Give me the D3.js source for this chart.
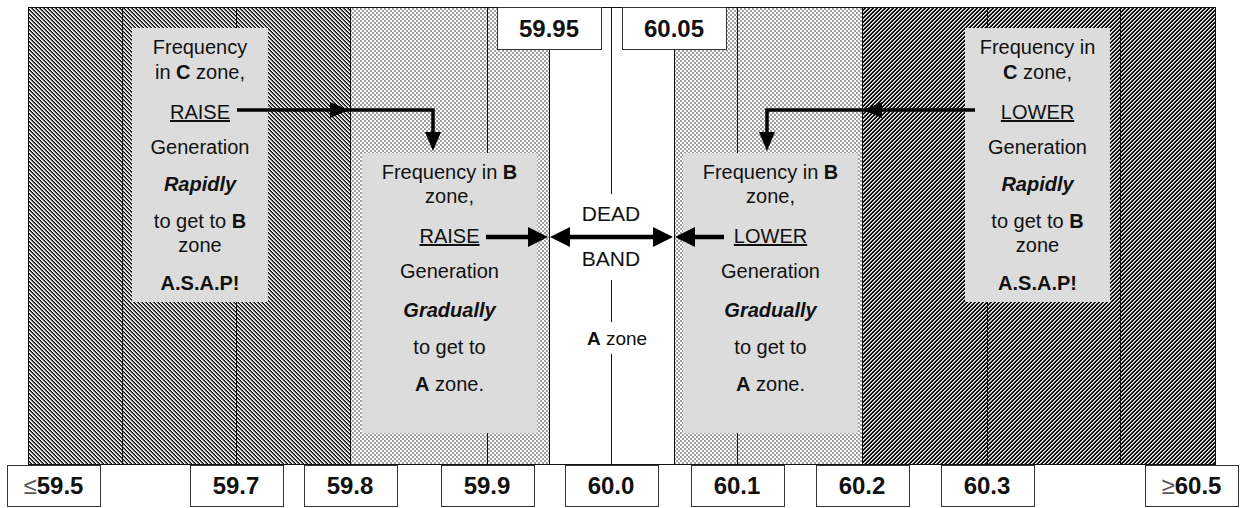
<!DOCTYPE html>
<html>
<head>
<meta charset="utf-8">
<script src="https://cdn.jsdelivr.net/npm/d3@7"></script>
<style>
  body { margin: 0; background: #fff; }
  svg { display: block; font-family: Arial, 'Liberation Sans', sans-serif; }
</style>
</head>
<body>
<svg id="chart" width="1240" height="508"></svg>
<script>
// frequency ticks (Hz) and where the chart puts them (the scale is not uniform)
var gridValues = [59.5, 59.6, 59.7, 59.8, 59.9, 59.95, 60.0, 60.05, 60.1, 60.2, 60.3, 60.4, 60.5];
var gridPx = [28, 122, 236, 350, 487, 549, 611, 674, 737, 862, 987, 1120, 1215];

// zones
var zoneStarts = [59.5, 59.8, 59.95, 60.05, 60.2];
var zoneEnds = [59.8, 59.95, 60.05, 60.2, 60.5];
var zoneFills = ['hatchLow', 'dots', 'none', 'dots', 'hatchHigh'];

// labels
var bottomValues = [59.5, 59.7, 59.8, 59.9, 60.0, 60.1, 60.2, 60.3, 60.5];
var bottomLabels = ['\u226459.5', '59.7', '59.8', '59.9', '60.0', '60.1', '60.2', '60.3', '\u226560.5'];
var topValues = [59.95, 60.05];
var topLabels = ['59.95', '60.05'];

// annotation text, one array per box; each line is a list of [text, style]
var cLowText = [
    [['Frequency', '']],
    [['in ', ''], ['C', 'b'], [' zone,', '']],
    [['RAISE', 'u']],
    [['Generation', '']],
    [['Rapidly', 'bi']],
    [['to get to ', ''], ['B', 'b']],
    [['zone', '']],
    [['A.S.A.P!', 'b']]
];
var cHighText = [
    [['Frequency in', '']],
    [['C', 'b'], [' zone,', '']],
    [['LOWER', 'u']],
    [['Generation', '']],
    [['Rapidly', 'bi']],
    [['to get to ', ''], ['B', 'b']],
    [['zone', '']],
    [['A.S.A.P!', 'b']]
];
var bLowText = [
    [['Frequency in ', ''], ['B', 'b']],
    [['zone,', '']],
    [['RAISE', 'u']],
    [['Generation', '']],
    [['Gradually', 'bi']],
    [['to get to', '']],
    [['A', 'b'], [' zone.', '']]
];
var bHighText = [
    [['Frequency in ', ''], ['B', 'b']],
    [['zone,', '']],
    [['LOWER', 'u']],
    [['Generation', '']],
    [['Gradually', 'bi']],
    [['to get to', '']],
    [['A', 'b'], [' zone.', '']]
];
var cLineY = [47, 72, 112, 147, 184, 221, 245, 283];
var bLineY = [172, 196, 236, 271, 310, 347, 384];

var svg = d3.select('#chart');
var plotTop = 7, plotBottom = 464;

var x = d3.scaleLinear().domain(gridValues).range(gridPx);

// patterns
var defs = svg.append('defs');
function pixelPattern(id, colorAt) {
    var p = defs.append('pattern').attr('id', id)
        .attr('patternUnits', 'userSpaceOnUse')
        .attr('width', 4).attr('height', 4);
    for(var i = 0; i < 4; i++) {
        for(var j = 0; j < 4; j++) {
            p.append('rect').attr('x', i).attr('y', j)
                .attr('width', 1).attr('height', 1)
                .attr('shape-rendering', 'crispEdges')
                .attr('fill', colorAt(i, j));
        }
    }
}
var lowCols = ['#000', '#fff', '#c8c8c8', '#5a5a5a'];
var highCols = ['#000', '#1a1a1a', '#fff', '#999'];
pixelPattern('hatchLow', function(i, j) { return lowCols[(i - j + 8) % 4]; });
pixelPattern('hatchHigh', function(i, j) { return highCols[(i + j) % 4]; });
pixelPattern('dots', function(i, j) {
    var cell = (Math.floor(i / 2) + Math.floor(j / 2)) % 2;
    return cell === 0 ? '#a0a0a0' : '#fff';
});

// zone fills
svg.append('g').selectAll('rect')
    .data(zoneStarts)
    .join('rect')
    .attr('x', function(d) { return x(d); })
    .attr('y', plotTop)
    .attr('width', function(d, i) { return x(zoneEnds[i]) - x(d); })
    .attr('height', plotBottom - plotTop)
    .attr('shape-rendering', 'crispEdges')
    .attr('fill', function(d, i) { return zoneFills[i] === 'none' ? '#fff' : 'url(#' + zoneFills[i] + ')'; });

// grid lines
svg.append('g').selectAll('line')
    .data(gridValues)
    .join('line')
    .attr('x1', function(d) { return Math.round(x(d)) + 0.5; })
    .attr('x2', function(d) { return Math.round(x(d)) + 0.5; })
    .attr('y1', plotTop).attr('y2', plotBottom)
    .attr('stroke', '#111').attr('stroke-width', 1);

svg.append('rect')
    .attr('x', x(59.5) + 0.5).attr('y', plotTop + 0.5)
    .attr('width', x(60.5) - x(59.5)).attr('height', plotBottom - plotTop)
    .attr('fill', 'none').attr('stroke', '#111');

// gaps in the 60.0 line behind the centre text
var cx = x(60.0);
svg.append('rect').attr('x', cx - 8).attr('y', 194).attr('width', 16).attr('height', 86).attr('fill', '#fff');
svg.append('rect').attr('x', cx - 8).attr('y', 322).attr('width', 16).attr('height', 32).attr('fill', '#fff');

// annotation boxes
function textBox(x0, y0, x1, y1, lines, ys) {
    var g = svg.append('g');
    g.append('rect').attr('x', x0).attr('y', y0)
        .attr('width', x1 - x0).attr('height', y1 - y0)
        .attr('fill', '#dcdcdc');
    var mid = (x0 + x1) / 2;
    lines.forEach(function(parts, i) {
        var t = g.append('text')
            .attr('x', mid).attr('y', ys[i])
            .attr('dy', '0.35em')
            .attr('text-anchor', 'middle')
            .attr('font-size', 20)
            .attr('fill', '#111');
        parts.forEach(function(p) {
            var s = t.append('tspan').text(p[0]);
            if(p[1].indexOf('b') >= 0) s.attr('font-weight', 'bold');
            if(p[1].indexOf('i') >= 0) s.attr('font-style', 'italic');
            if(p[1] === 'u') s.attr('text-decoration', 'underline');
        });
    });
}
textBox(132, 28, 268, 302, cLowText, cLineY);
textBox(965, 28, 1110, 302, cHighText, cLineY);
textBox(362, 153, 537, 433, bLowText, bLineY);
textBox(683, 153, 858, 433, bHighText, bLineY);

// centre text
var centre = svg.append('g').attr('text-anchor', 'middle').attr('font-size', 21).attr('fill', '#111');
centre.append('text').attr('x', cx).attr('y', 214).attr('dy', '0.35em').text('DEAD');
centre.append('text').attr('x', cx).attr('y', 259).attr('dy', '0.35em').text('BAND');
var az = centre.append('text').attr('x', cx + 6).attr('y', 338).attr('dy', '0.35em').attr('font-size', 19);
az.append('tspan').attr('font-weight', 'bold').text('A');
az.append('tspan').text(' zone');

// arrows
function head(tx, ty, dir, len, half) {
    var pts;
    if(dir === 'r') pts = [[tx, ty], [tx - len, ty - half], [tx - len, ty + half]];
    if(dir === 'l') pts = [[tx, ty], [tx + len, ty - half], [tx + len, ty + half]];
    if(dir === 'd') pts = [[tx, ty], [tx - half, ty - len], [tx + half, ty - len]];
    svg.append('polygon').attr('points', pts.map(function(p) { return p.join(','); }).join(' '))
        .attr('fill', '#000');
}
function wire(d, w) {
    svg.append('path').attr('d', d).attr('fill', 'none')
        .attr('stroke', '#000').attr('stroke-width', w);
}
// C zone arrows (top)
var ay = 110;
var lowTurn = 433, highTurn = 767;
wire('M237,' + ay + 'H' + lowTurn + 'V138', 3.5);
head(x(59.8) - 1, ay, 'r', 19, 8);
head(lowTurn, 151, 'd', 19, 8);
wire('M975,' + ay + 'H' + highTurn + 'V138', 3.5);
head(x(60.2) + 1, ay, 'l', 19, 8);
head(highTurn, 151, 'd', 19, 8);

// B zone / dead band arrows
var my = 237;
wire('M486,' + my + 'H' + (x(59.95) - 14), 4.5);
head(x(59.95) - 1, my, 'r', 20, 10);
wire('M' + (x(59.95) + 14) + ',' + my + 'H' + (x(60.05) - 14), 4.5);
head(x(59.95) + 1, my, 'l', 20, 10);
head(x(60.05) - 1, my, 'r', 20, 10);
wire('M' + (x(60.05) + 14) + ',' + my + 'H724', 4.5);
head(x(60.05) + 1, my, 'l', 20, 10);

// value labels
function labelBoxes(values, labels, y0, h, w) {
    var g = svg.append('g');
    var items = values.map(function(v, i) {
        var left = Math.max(7, Math.min(1238 - w, x(v) - w / 2));
        return {left: left, label: labels[i]};
    });
    g.selectAll('rect').data(items).join('rect')
        .attr('x', function(d) { return Math.round(d.left) + 0.5; })
        .attr('y', y0 + 0.5)
        .attr('width', w).attr('height', h)
        .attr('fill', '#fff').attr('stroke', '#333');
    var t = g.selectAll('text').data(items).join('text')
        .attr('x', function(d) { return d.left + w / 2; })
        .attr('y', y0 + h / 2)
        .attr('dy', '0.36em')
        .attr('text-anchor', 'middle')
        .attr('font-size', 24)
        .attr('font-weight', 'bold')
        .attr('fill', '#111');
    t.each(function(d) {
        var el = d3.select(this);
        var sym = d.label.charAt(0);
        if(sym === '\u2264' || sym === '\u2265') {
            el.append('tspan').attr('font-weight', 'normal').attr('fill', '#555').text(sym);
            el.append('tspan').text(d.label.slice(1));
        } else {
            el.text(d.label);
        }
    });
}
labelBoxes(bottomValues, bottomLabels, 465, 41, 93);
labelBoxes(topValues, topLabels, 7, 42, 104);
</script>
</body>
</html>
